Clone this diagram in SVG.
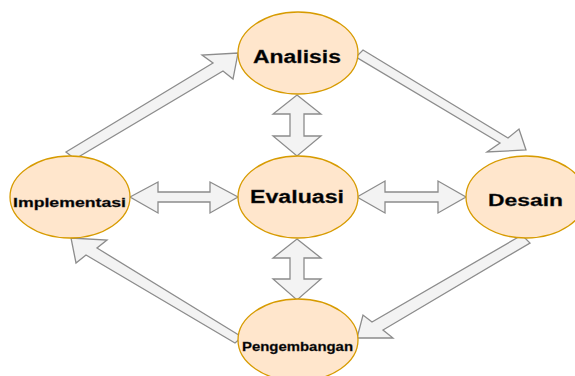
<svg xmlns="http://www.w3.org/2000/svg" width="575" height="376" viewBox="0 0 575 376">
<style>
.node{fill:#ffe6cc;stroke:#d79b00;stroke-width:1.3}
.arr{fill:#f3f3f3;stroke:#8c8c8c;stroke-width:1.3;stroke-linejoin:miter}
.lbl{font-family:"Liberation Sans",Arial,sans-serif;font-weight:bold;fill:#000;text-anchor:middle;stroke:#333;stroke-width:0.3}
</style>
<rect width="575" height="376" fill="#fff"/>
<g id="connectors">
<polygon class="arr" points="66,152 213,63 202,55 238,53 233,79 223,71 75,159"/>
<polygon class="arr" points="363,50 508,138 519,129 526,150 487,152 500,143 356,57"/>
<polygon class="arr" points="522,235 372,322 363,315 357,338 393,338 383,330 530,243"/>
<polygon class="arr" points="242,337 97,248 107,240 71,238 76,263 86,255 235,343"/>
<polygon class="arr" points="297,95 321,114 304,114 304,136 321,136 297,156 273,136 290,136 290,114 273,114"/>
<polygon class="arr" points="297,239 321,258 304,258 304,279 321,279 297,300 273,279 290,279 290,258 273,258"/>
<polygon class="arr" points="130,197 158,182 158,192 210,192 210,182 238,197 210,213 210,202 158,202 158,213"/>
<polygon class="arr" points="357,197 385,181 385,192 438,192 438,181 466,197 438,213 438,202 385,202 385,213"/>
</g>
<g id="analisis">
<ellipse class="node" cx="298" cy="53" rx="60" ry="41"/>
<text class="lbl" x="297" y="63" font-size="18" textLength="88" lengthAdjust="spacingAndGlyphs">Analisis</text>
</g>
<g id="evaluasi">
<ellipse class="node" cx="298" cy="197" rx="60" ry="41"/>
<text class="lbl" x="297" y="203" font-size="18" textLength="94" lengthAdjust="spacingAndGlyphs">Evaluasi</text>
</g>
<g id="implementasi">
<ellipse class="node" cx="70" cy="197" rx="60" ry="41"/>
<text class="lbl" x="69.5" y="207" font-size="12.5" textLength="113" lengthAdjust="spacingAndGlyphs">Implementasi</text>
</g>
<g id="desain">
<ellipse class="node" cx="526" cy="197" rx="60" ry="41"/>
<text class="lbl" x="525.5" y="206" font-size="17" textLength="75" lengthAdjust="spacingAndGlyphs">Desain</text>
</g>
<g id="pengembangan">
<ellipse class="node" cx="298" cy="340" rx="60" ry="41"/>
<text class="lbl" x="297.5" y="351" font-size="12.5" textLength="111" lengthAdjust="spacingAndGlyphs">Pengembangan</text>
</g>
</svg>
